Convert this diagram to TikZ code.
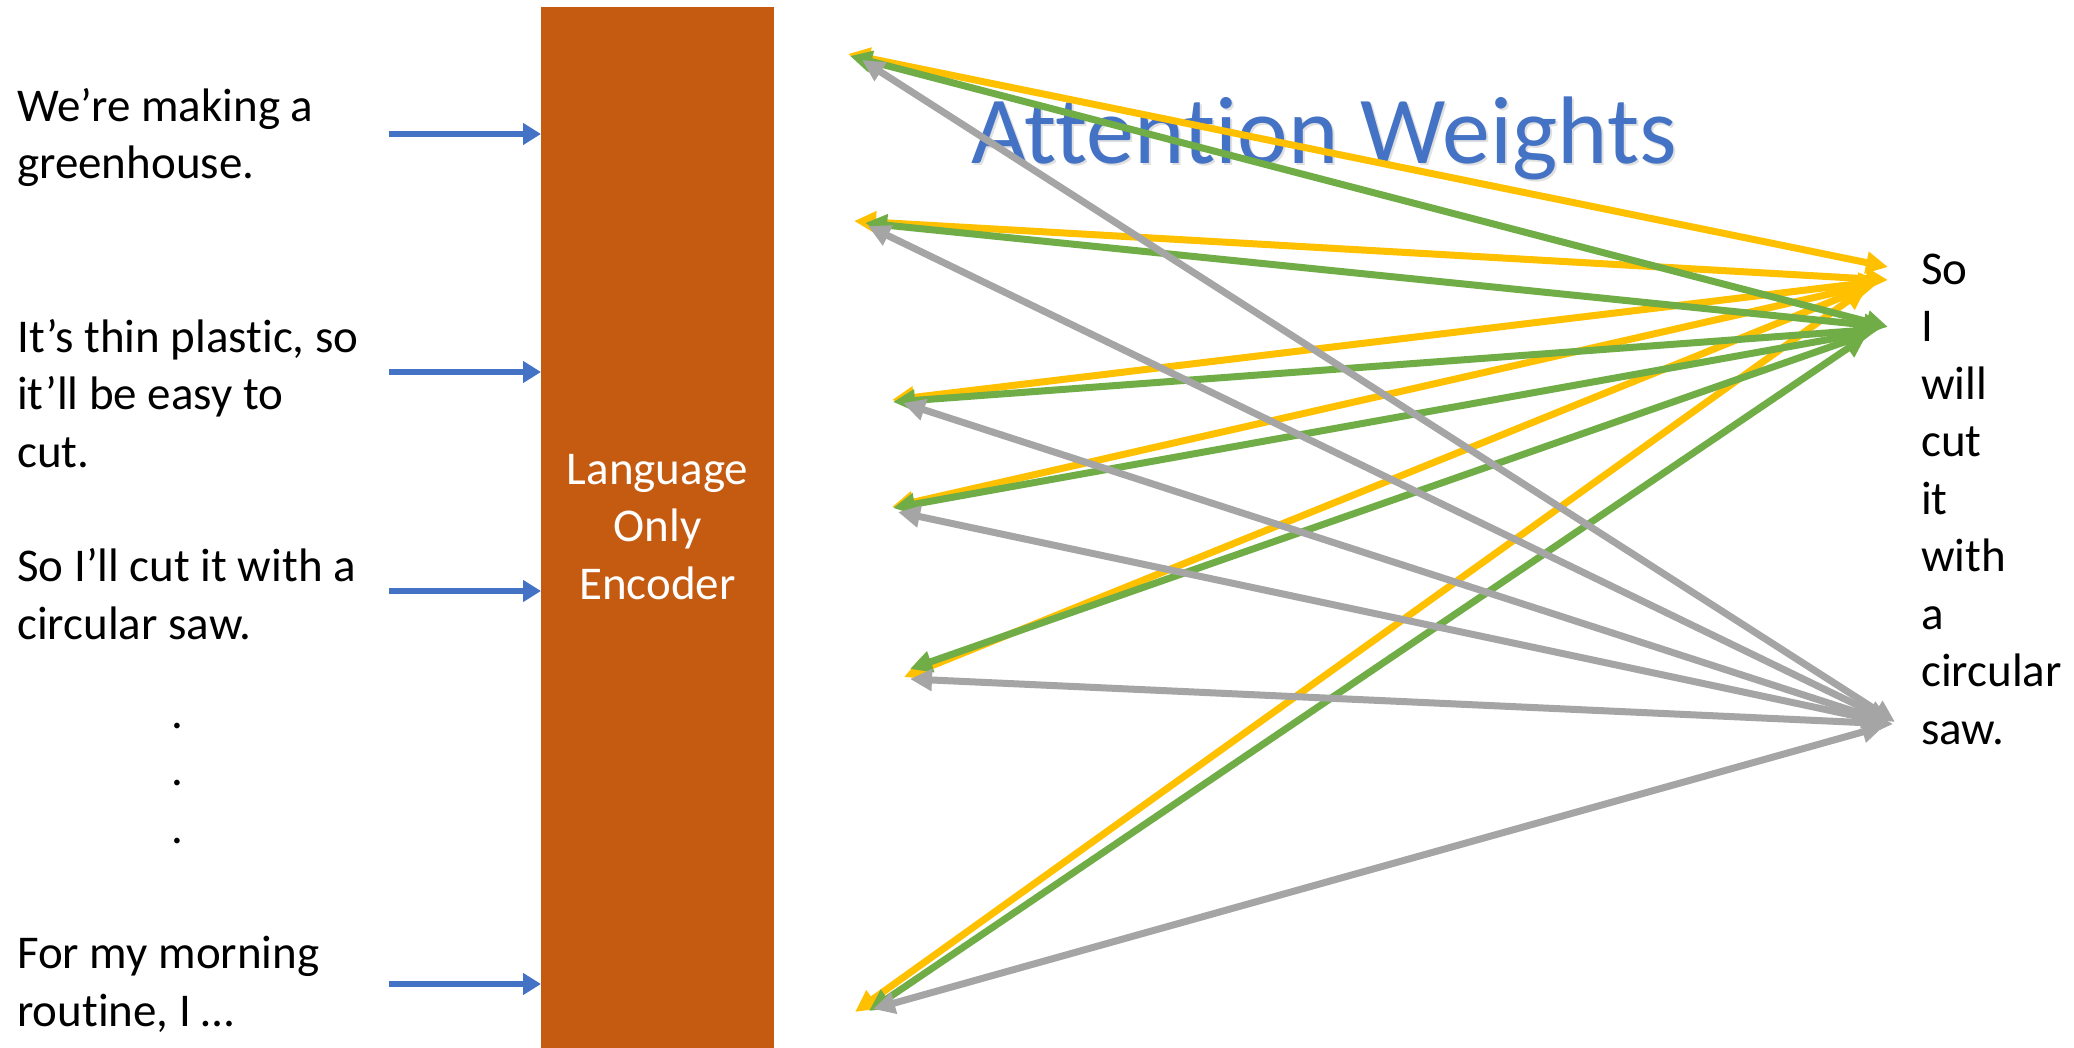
\documentclass[tikz,border=0pt]{standalone}
\usepackage{fontspec}
\setmainfont{Carlito}[Ligatures={NoCommon,NoContextual}, Contextuals=NoAlternate]
\usetikzlibrary{arrows.meta}
\definecolor{encoderorange}{HTML}{C55A11}
\definecolor{accblue}{HTML}{4472C4}
\definecolor{attyellow}{HTML}{FFC000}
\definecolor{attgreen}{HTML}{70AD47}
\definecolor{attgray}{HTML}{A5A5A5}
\tikzset{
  body/.style={font=\fontsize{47}{57.5}\selectfont, inner sep=0pt, align=left, anchor=base west},
  inarrow/.style={draw=accblue, line width=6.5pt, -{Triangle[length=18pt,width=21pt]}},
  att/.style={line width=7pt, {Triangle[length=22pt,width=21pt]}-{Triangle[length=22pt,width=21pt]}},
  atty/.style={att, draw=attyellow, fill=attyellow},
  attg/.style={att, draw=attgreen, fill=attgreen},
  attr/.style={att, draw=attgray, fill=attgray},
}
\begin{document}
\begin{tikzpicture}[x=1pt, y=-1pt]
\useasboundingbox (0,0) rectangle (2074,1048);
\fill[white] (0,0) rectangle (2074,1048);

% encoder
\node[fill=encoderorange, minimum width=233pt, minimum height=1041pt, inner sep=0pt, anchor=north west] (enc) at (541,7) {};
\node[font=\fontsize{47}{57.5}\selectfont, text=white, align=center, inner sep=0pt, anchor=base] (enclabel) at (657.5,599) {Language\\Only\\Encoder};

% inputs (anchor = baseline of last line)
\node[body] (s1) at (17,179) {We’re making a\\greenhouse.};
\node[body] (s2) at (17,467) {It’s thin plastic, so\\it’ll be easy to\\cut.};
\node[body] (s3) at (17,639) {So I’ll cut it with a\\circular saw.};
\node[font=\fontsize{47}{57.5}\selectfont, inner sep=0pt, align=center, anchor=base] (dots) at (177,843) {.\\.\\.};
\node[body] (s4) at (17,1026) {For my morning\\routine, I …};

\coordinate (i1) at (389,134);
\coordinate (i2) at (389,372);
\coordinate (i3) at (389,591);
\coordinate (i4) at (389,984);
\foreach \k in {1,2,3,4} \draw[inarrow] (i\k) -- (i\k -| enc.west);

% title
\node[font=\fontsize{96}{110}\selectfont, text=black!12, inner sep=0pt, anchor=base] (titleshadow) at (1326,166) {Attention Weights};
\node[font=\fontsize{96}{110}\selectfont, text=accblue, inner sep=0pt, anchor=base] (title) at (1324,164) {Attention Weights};

% output words
\node[body] (out) at (1921,744) {So\\I\\will\\cut\\it\\with\\a\\circular\\saw.};

% left endpoints
\coordinate (y1) at (848,54);   \coordinate (g1) at (850,56);   \coordinate (r1) at (862,60);
\coordinate (y2) at (854,221);  \coordinate (g2) at (865,223);  \coordinate (r2) at (868,226);
\coordinate (y3) at (892,400);  \coordinate (g3) at (893,402);  \coordinate (r3) at (903,403);
\coordinate (y4) at (892,507);  \coordinate (g4) at (893,508);  \coordinate (r4) at (898,512);
\coordinate (y5) at (904,677);  \coordinate (g5) at (910,669);  \coordinate (r5) at (910,679);
\coordinate (y6) at (855,1012); \coordinate (g6) at (869,1011); \coordinate (r6) at (873,1009);
% right endpoints
\coordinate (so1) at (1888,267);
\coordinate (so2) at (1888,280);
\coordinate (so3) at (1881,281);
\coordinate (so4) at (1878,283);
\coordinate (so5) at (1872,285);
\coordinate (so6) at (1866,288);
\coordinate (ii1) at (1888,327);
\coordinate (ii2) at (1886,327);
\coordinate (ii3) at (1880,329);
\coordinate (ii4) at (1876,331);
\coordinate (ii5) at (1870,333);
\coordinate (ii6) at (1866,336);
\coordinate (sw1) at (1895,722);
\coordinate (sw2) at (1890,721);
\coordinate (sw3) at (1887,722);
\coordinate (sw4) at (1884,722);
\coordinate (sw5) at (1893,724);
\coordinate (sw6) at (1884,726);

\foreach \k in {1,...,6} \draw[atty] (y\k) -- (so\k);
\foreach \k in {1,...,6} \draw[attg] (g\k) -- (ii\k);
\foreach \k in {1,...,6} \draw[attr] (r\k) -- (sw\k);
\end{tikzpicture}
\end{document}
